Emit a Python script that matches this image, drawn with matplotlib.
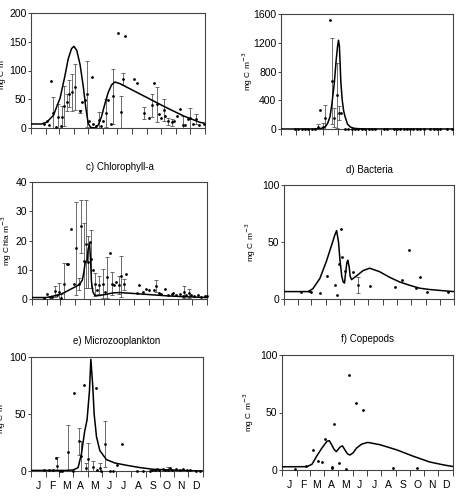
import numpy as np
import matplotlib
matplotlib.use('Agg')
import matplotlib.pyplot as plt

plt.rcParams['font.family'] = ['Liberation Sans', 'DejaVu Sans']

# month boundaries (day of year) and labels
month_edges = [0, 31, 59, 90, 120, 151, 181, 212, 243, 273, 304, 334, 365]
month_names = ['J', 'F', 'M', 'A', 'M', 'J', 'J', 'A', 'S', 'O', 'N', 'D']

# a) Diatoms
a_line_day = [0, 22, 33, 47, 61, 71, 78, 85, 90, 96, 103, 110, 115, 120, 125, 134,
              141, 148, 155, 162, 169, 176, 187, 215, 250, 285, 320, 354, 365]
a_line_val = [7, 7, 10, 22, 52, 90, 120, 138, 142, 135, 110, 70, 35, 8, 1, 0,
              5, 20, 42, 62, 75, 80, 77, 65, 50, 35, 21, 10, 8]
a_day = [28, 33, 37, 42, 47, 52, 57, 62, 66, 70, 75, 80, 85, 92, 103, 108, 113, 118, 122,
         127, 131, 136, 143, 147, 152, 157, 162, 168, 173, 183, 188, 192, 198, 217, 223,
         238, 248, 253, 258, 264, 268, 273, 278, 282, 288, 295, 300, 307, 313, 318, 324,
         330, 333, 340, 347, 353, 363]
a_val = [7, 12, 5, 82, 26, 1, 20, 4, 19, 38, 45, 60, 62, 71, 29, 46, 48, 59, 13,
         88, 7, 4, 14, 4, 12, 26, 49, 7, 55, 165, 27, 85, 160, 86, 78,
         26, 18, 40, 79, 41, 24, 17, 32, 21, 12, 10, 12, 21, 33, 6, 6,
         16, 17, 7, 16, 6, 7]
a_err = [0, 0, 0, 0, 28, 0, 22, 0, 19, 35, 15, 23, 32, 40, 3, 0, 0, 58, 0,
         0, 0, 0, 14, 0, 0, 24, 0, 0, 48, 0, 28, 10, 0, 0, 0,
         11, 0, 20, 0, 31, 0, 0, 19, 0, 6, 6, 0, 0, 0, 15, 0,
         0, 17, 0, 9, 0, 0]

# b) Phaeocystis
b_line_day = [0, 69, 84, 90, 94, 99, 104, 108, 113, 117, 120, 122, 124, 127, 130,
              133, 136, 141, 147, 155, 165, 180, 365]
b_line_val = [0, 0, 8, 18, 30, 80, 170, 350, 630, 950, 1150, 1235, 1150, 650, 400,
              250, 170, 70, 28, 10, 4, 1, 0]
b_day = [30, 37, 44, 51, 58, 65, 72, 78, 83, 89, 94, 104, 108, 113, 118, 124, 128,
         136, 143, 150, 157, 164, 171, 179, 186, 193, 200, 218, 225, 239, 246, 253,
         260, 267, 274, 281, 288, 296, 303, 317, 324, 331, 338, 352, 363]
b_val = [5, 5, 5, 5, 5, 5, 5, 28, 270, 28, 158, 1516, 670, 158, 470, 223, 223,
         5, 5, 5, 5, 5, 5, 5, 5, 5, 5, 5, 5, 5, 5, 5,
         5, 5, 5, 5, 5, 5, 5, 5, 5, 5, 5, 5, 5]
b_err = [0, 0, 0, 0, 0, 0, 0, 35, 0, 60, 180, 0, 600, 130, 450, 100, 0,
         0, 0, 0, 0, 0, 0, 0, 0, 0, 0, 0, 0, 0, 0, 0,
         0, 0, 0, 0, 0, 0, 0, 0, 0, 0, 0, 0, 0]

# c) Chlorophyll-a
c_line_day = [0, 30, 44, 54, 65, 79, 92, 99, 105, 108, 111, 115, 117, 120, 122, 124,
              127, 131, 141, 155, 169, 183, 211, 245, 280, 315, 365]
c_line_val = [0.5, 0.5, 1.0, 1.3, 2.0, 3.2, 4.3, 5.0, 6.5, 9, 12.5, 13, 17, 19, 14, 6,
              2.5, 1.2, 1.2, 1.6, 2.1, 2.2, 1.9, 1.5, 1.1, 0.8, 0.5]
c_day = [26, 32, 37, 42, 47, 52, 56, 61, 66, 72, 75, 82, 87, 92, 98, 103, 108, 112,
         117, 120, 124, 127, 131, 136, 140, 149, 153, 157, 162, 167, 171, 176, 181,
         186, 191, 197, 218, 223, 231, 238, 245, 254, 259, 265, 270, 277, 284, 291,
         295, 301, 308, 314, 317, 322, 327, 332, 337, 346, 352, 360, 365]
c_val = [0.5, 1.6, 0.7, 0.6, 2.6, 1.3, 2.4, 0.3, 5.2, 12.1, 11.9, 23.8, 5.2, 17.3, 5.2,
         24.8, 13, 18.7, 12.6, 19.4, 13.6, 9.8, 5, 3, 4.7, 5.2, 2.4, 7.5, 15.7, 5.2,
         4.7, 5.8, 4.7, 7.7, 5, 8.4, 2, 4.9, 2.4, 3.3, 3, 3.2, 4.4, 2, 1.6, 3.3, 1.5,
         1.8, 2, 1.3, 1.6, 1, 2.4, 1.4, 1.9, 1.4, 0.9, 1.4, 0.7, 1, 1]
c_err = [0, 0, 0, 0, 2, 0, 3, 1.5, 7, 0, 0, 0, 0, 16, 2,
         9, 13, 15, 9, 0, 10, 0, 4, 0, 3, 5, 0, 7, 0, 4,
         0, 0, 3, 7, 2, 0, 0, 0, 0, 0, 0, 0, 2, 0, 0, 0, 0,
         0, 0, 0, 0, 0, 2, 0, 1.5, 0, 0, 0, 0, 0, 0]

# d) Bacteria
d_line_day = [0, 52, 62, 77, 91, 102, 109, 113, 117, 120, 124, 127, 130, 132, 135, 137,
              140, 142, 145, 155, 170, 184, 205, 227, 248, 270, 291, 313, 341, 365]
d_line_val = [6.5, 6.5, 9, 18, 33, 47, 56, 60, 50, 35, 20, 15, 14, 22, 32, 34,
              28, 20, 17, 20, 25, 27, 24, 19, 15, 12, 9.5, 8.3, 7.3, 6.5]
d_day = [37, 54, 59, 78, 93, 109, 113, 118, 123, 124, 132, 148, 159, 184, 239, 253,
         268, 283, 293, 308, 352]
d_val = [6.4, 7.3, 5.8, 5.5, 20.4, 12.2, 3.2, 30.3, 61.2, 36.7, 24.8, 23.9, 12, 11,
         10.5, 16.6, 43.4, 9.6, 19.5, 6.1, 5.8]
d_err = [0, 0, 0, 0, 0, 0, 0, 0, 0, 0, 0, 0, 7, 0, 0, 0, 0, 0, 0, 0, 0]

# e) Microzooplankton
e_line_day = [0, 76, 90, 100, 107, 114, 119, 124, 127, 131, 134, 139, 146, 160, 178,
              203, 231, 259, 287, 330, 365]
e_line_val = [0.5, 0.5, 1, 3, 15, 35, 45, 70, 98, 75, 50, 30, 18, 10, 7,
              5, 3, 1.5, 1, 0.3, 0]
e_day = [28, 38, 47, 52, 56, 61, 66, 78, 89, 92, 102, 107, 112, 116, 121, 132, 138,
         141, 146, 149, 158, 167, 173, 183, 193, 224, 238, 252, 257, 263, 268, 272,
         280, 284, 291, 294, 300, 307, 316, 323, 330, 337, 351, 358]
e_val = [0.6, 1.2, 0.6, 11.1, 4.1, 0, 0, 16.7, 0, 68.7, 26, 13.2, 75.7, 2.3, 10.5,
         3.5, 73, 0.6, 2.6, 0, 23.7, 0, 0, 5.5, 23.4, 0, 0, 0, 0.6, 1.2, 2, 0.6,
         2, 1.2, 1.2, 2.6, 0.6, 1.5, 1.2, 1.5, 0.6, 0.6, 0, 0]
e_err = [0, 0, 0, 0, 8, 0, 0, 24, 0, 0, 12, 13, 0, 5, 14,
         5, 0, 0, 4, 0, 20, 0, 0, 0, 0, 0, 0, 0, 0, 0, 0, 0,
         0, 0, 2, 0, 0, 0, 0, 0, 0, 0, 0, 0]

# f) Copepods
f_line_day = [0, 53, 64, 74, 85, 96, 101, 106, 111, 116, 120, 124, 129, 135, 140, 145,
              152, 159, 170, 183, 209, 245, 280, 315, 344, 365]
f_line_val = [2.8, 2.9, 5, 12, 19, 25, 25.5, 22, 18, 16, 18, 20, 21, 17, 14, 13,
              15, 19, 22.5, 24, 22, 17.5, 12, 7, 4.5, 3]
f_day = [27, 52, 66, 76, 86, 92, 106, 107, 112, 122, 137, 142, 157, 172, 237, 288]
f_val = [1.2, 3.5, 17.4, 8.1, 6.7, 27, 2.9, 2, 40, 5.8, 1.2, 82.6, 58.6, 52.2, 2, 1.4]
f_err = [0] * len(f_day)

W, H = 458, 497
fig = plt.figure(figsize=(W / 100, H / 100), dpi=100)


def box(l, t, r, b):
    return [l / W, 1 - b / H, (r - l) / W, (b - t) / H]


# (axes box in pixels, title, ..., title pad, right edge of y-label in pixels)
panels = [
    ((31, 13, 205, 128), 'a) Diatoms', a_line_day, a_line_val, a_day, a_val, a_err,
     200, [0, 50, 100, 150, 200], 'mg C m$^{-3}$', False, 15, 9),
    ((281, 14, 453, 129), 'b) Phaeocystis colonies', b_line_day, b_line_val, b_day, b_val, b_err,
     1600, [0, 400, 800, 1200, 1600], 'mg C m$^{-3}$', False, 15, 255),
    ((32, 182, 207, 299), 'c) Chlorophyll-a', c_line_day, c_line_val, c_day, c_val, c_err,
     40, [0, 10, 20, 30, 40], 'mg Chla m$^{-3}$', False, 9, 14),
    ((284, 185, 454, 299), 'd) Bacteria', d_line_day, d_line_val, d_day, d_val, d_err,
     100, [0, 50, 100], 'mg C m$^{-3}$', False, 9, 258),
    ((31, 357, 203, 471), 'e) Microzooplankton', e_line_day, e_line_val, e_day, e_val, e_err,
     100, [0, 50, 100], 'mg C m$^{-3}$', True, 9, 8),
    ((282, 355, 453, 470), 'f) Copepods', f_line_day, f_line_val, f_day, f_val, f_err,
     100, [0, 50, 100], 'mg C m$^{-3}$', True, 9, 256),
]

for px, title, ld, lv, pd_, pv, pe, ytop, yt, ylab, months, tpad, ylx in panels:
    ax = fig.add_axes(box(*px))
    ax.plot(ld, lv, color='black', lw=1.1, zorder=3)
    pd_ = np.array(pd_, float)
    pv = np.array(pv, float)
    pe = np.array(pe, float)
    m = pe > 0
    if m.any():
        ax.errorbar(pd_[m], pv[m], yerr=pe[m], fmt='none', ecolor='#555555',
                    elinewidth=0.6, capsize=1.5, capthick=0.6, zorder=2)
    ax.plot(pd_, pv, 'o', color='black', ms=2.0, mew=0, zorder=4, clip_on=False)
    ax.set_xlim(0, 365)
    ax.set_ylim(0, ytop)
    ax.set_yticks(yt)
    ax.set_xticks(month_edges)
    ax.set_xticklabels([])
    if months:
        mids = [(month_edges[i] + month_edges[i + 1]) / 2 for i in range(12)]
        ax.set_xticks(mids, minor=True)
        ax.set_xticklabels(month_names, minor=True, fontsize=7.5)
        ax.tick_params(axis='x', which='minor', length=0, pad=7)
    ax.tick_params(axis='x', which='major', direction='out', length=4.5, width=0.7, color='#444444')
    ax.tick_params(axis='y', direction='out', length=2.5, width=0.7, color='#444444',
                   labelsize=7.5, pad=0.8)
    for s in ax.spines.values():
        s.set_linewidth(0.8)
        s.set_color('#444444')
    ax.set_ylabel(ylab, fontsize=6)
    ax.yaxis.set_label_coords((ylx - px[0]) / (px[2] - px[0]), 0.5)
    # top row titles sit above the page edge, as in the original
    ax.set_title(title, fontsize=7, pad=tpad)

fig.savefig('out.png', dpi=100)
